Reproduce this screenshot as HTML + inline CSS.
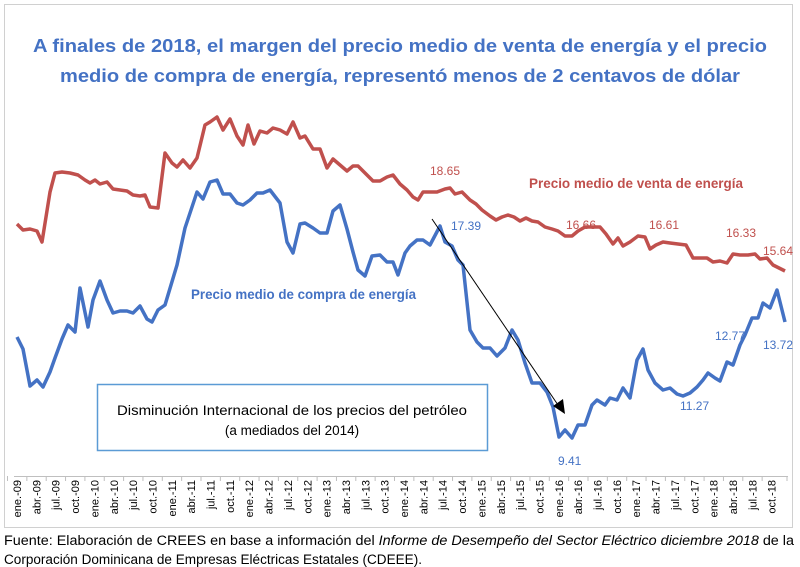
<!DOCTYPE html>
<html><head><meta charset="utf-8"><style>
html,body{margin:0;padding:0;background:#fff;}
svg{display:block;font-family:"Liberation Sans",sans-serif;}
</style></head><body>
<svg width="800" height="567" viewBox="0 0 800 567" xmlns="http://www.w3.org/2000/svg">
<rect x="4.5" y="4.5" width="788" height="523" fill="#fff" stroke="#d0d0d0" stroke-width="1"/>
<text x="400" y="52" text-anchor="middle" font-size="18" font-weight="bold" fill="#4472c4" textLength="734" lengthAdjust="spacingAndGlyphs">A finales de 2018, el margen del precio medio de venta de energía y el precio</text>
<text x="400" y="82" text-anchor="middle" font-size="18" font-weight="bold" fill="#4472c4" textLength="680" lengthAdjust="spacingAndGlyphs">medio de compra de energía, representó menos de 2 centavos de dólar</text>
<line x1="14" y1="476.5" x2="788" y2="476.5" stroke="#bfbfbf"/>
<g id="ticks" stroke="#bfbfbf"></g>
<g id="labels" font-size="11" fill="#000"></g>
<polyline fill="none" stroke="#c0504d" stroke-width="3.5" stroke-linejoin="round" points="17,224 23,230 30,229 37,231 42,242 50,192 55,173 62,172 70,173 78,175 85,180 90,183 95,180 100,184 107,182 113,189 120,190 127,191 133,195 140,196 145,195 150,207 158,208 165,153 172,163 177,167 183,160 190,168 197,158 205,125 210,122 217,117 223,130 230,119 237,136 243,145 248,125 254,144 260,131 267,133 273,128 280,130 287,134 293,122 300,138 305,136 313,149 320,149 327,168 333,159 340,165 347,171 353,166 358,166 365,173 373,181 380,181 387,177 393,175 400,184 407,190 413,197 418,200 423,192 430,192 437,192 445,189 450,188 455,194 462,192 470,200 476,204 482,210 490,216 496,220 502,217 508,215 514,217 520,221 526,218 532,221 538,222 545,227 552,229 558,231 565,236 572,236 578,231 585,227 592,227 600,227 606,234 613,244 618,238 623,246 630,242 638,236 645,237 650,249 656,245 663,242 670,243 678,244 686,245 693,258 700,258 707,258 713,262 720,261 727,263 733,254 740,255 748,255 755,254 760,259 767,258 773,265 785,271"/>
<polyline fill="none" stroke="#4472c4" stroke-width="3.5" stroke-linejoin="round" points="17,337 23,349 30,386 37,380 43,387 50,372 55,358 62,339 68,325 75,332 80,288 88,327 93,300 100,281 107,300 113,313 120,311 127,311 133,313 140,306 147,319 152,322 158,310 165,305 177,265 185,228 197,192 203,199 210,182 217,180 223,194 230,194 237,203 243,205 250,200 257,193 263,193 270,190 280,203 287,242 293,253 300,224 305,223 313,228 320,233 327,233 333,211 340,205 347,229 353,252 358,270 365,276 372,256 380,255 387,262 393,262 398,275 405,253 410,246 417,240 423,240 430,245 440,226 445,242 452,246 458,260 463,265 470,330 477,342 483,348 490,348 497,356 505,348 512,330 518,340 525,363 532,383 540,383 547,392 553,407 559,437 565,430 572,438 578,425 585,425 592,405 597,400 605,405 610,398 617,400 623,388 630,398 637,360 643,349 648,370 655,383 663,390 670,388 677,394 683,396 690,393 697,387 703,380 708,373 715,378 720,381 727,362 733,365 740,345 745,335 752,318 758,318 763,303 770,308 777,290 785,322"/>
<line x1="432" y1="219" x2="558" y2="405" stroke="#000" stroke-width="1"/>
<polygon points="565,414 553,406 563,399" fill="#000"/>
<g font-size="12" fill="#c0504d">
<text x="430" y="175">18.65</text>
<text x="566" y="229">16.66</text>
<text x="649" y="229">16.61</text>
<text x="726" y="237">16.33</text>
<text x="763" y="255">15.64</text>
</g>
<text x="529" y="188" font-size="14" font-weight="bold" fill="#c0504d" textLength="214" lengthAdjust="spacingAndGlyphs">Precio medio de venta de energía</text>
<text x="191" y="299" font-size="14" font-weight="bold" fill="#4472c4" textLength="225" lengthAdjust="spacingAndGlyphs">Precio medio de compra de energía</text>
<g font-size="12" fill="#4472c4">
<text x="451" y="230">17.39</text>
<text x="558" y="465">9.41</text>
<text x="680" y="410">11.27</text>
<text x="715" y="340">12.77</text>
<text x="763" y="349">13.72</text>
</g>
<rect x="97.5" y="384.5" width="390" height="66" fill="#fff" stroke="#5b9bd5" stroke-width="1.5"/>
<text x="292" y="415" text-anchor="middle" font-size="13.5" fill="#000" textLength="350" lengthAdjust="spacingAndGlyphs">Disminución Internacional de los precios del petróleo</text>
<text x="292" y="435" text-anchor="middle" font-size="13.5" fill="#000">(a mediados del 2014)</text>
<text x="4" y="545" font-size="13.5" fill="#000" textLength="790" lengthAdjust="spacingAndGlyphs">Fuente: Elaboración de CREES en base a información del <tspan font-style="italic">Informe de Desempeño del Sector Eléctrico diciembre 2018</tspan> de la</text>
<text x="4" y="564" font-size="13.5" fill="#000" textLength="418" lengthAdjust="spacingAndGlyphs">Corporación Dominicana de Empresas Eléctricas Estatales (CDEEE).</text>
<script>
(function(){
var ns="http://www.w3.org/2000/svg";
var m=["ene.","abr.","jul.","oct."];
var t=document.getElementById("ticks"),l=document.getElementById("labels");
for(var i=0;i<40;i++){
 var x=17+i*19.35;
 var ln=document.createElementNS(ns,"line");
 ln.setAttribute("x1",x-9.5);ln.setAttribute("x2",x-9.5);ln.setAttribute("y1",476);ln.setAttribute("y2",481);
 t.appendChild(ln);
 var yr=9+Math.floor(i/4);
 var s=m[i%4]+"-"+(yr<10?"0"+yr:yr);
 var tx=document.createElementNS(ns,"text");
 tx.setAttribute("transform","translate("+(x+4)+",480) rotate(-90)");
 tx.setAttribute("text-anchor","end");
 tx.textContent=s;
 l.appendChild(tx);
}
var ln2=document.createElementNS(ns,"line");
ln2.setAttribute("x1",787);ln2.setAttribute("x2",787);ln2.setAttribute("y1",476);ln2.setAttribute("y2",481);t.appendChild(ln2);
})();
</script>
</svg>
</body></html>
